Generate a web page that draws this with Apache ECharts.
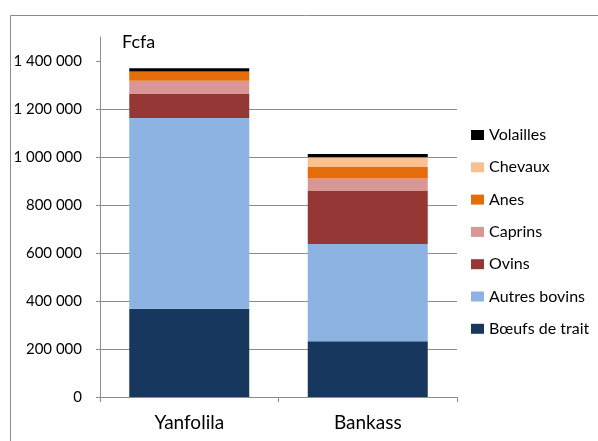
<!DOCTYPE html>
<html>
<head>
<meta charset="utf-8">
<script src="https://cdn.jsdelivr.net/npm/echarts@6/dist/echarts.min.js"></script>
<style>
html,body{margin:0;padding:0;background:#fff;}
#chart{width:598px;height:441px;}
</style>
</head>
<body>
<div id="chart"></div>
<script>
const categories = ['Yanfolila', 'Bankass'];
const boeufsDeTrait = [368000, 232000];
const autresBovins = [795000, 405000];
const ovins = [99000, 223000];
const caprins = [56000, 50000];
const anes = [38000, 48000];
const chevaux = [0, 41000];
const volailles = [14000, 14000];
const yTicks = [0, 200000, 400000, 600000, 800000, 1000000, 1200000, 1400000];
const legendOrder = ['Volailles', 'Chevaux', 'Anes', 'Caprins', 'Ovins', 'Autres bovins', 'Bœufs de trait'];

const FONT = 'Lato';
const GRID = '#8c8c8c';

function fmt(v) {
  return String(v).replace(/\B(?=(\d{3})+(?!\d))/g, ' ');
}

const seriesDefs = [
  ['Bœufs de trait', boeufsDeTrait, '#17375E'],
  ['Autres bovins', autresBovins, '#8DB3E2'],
  ['Ovins', ovins, '#953735'],
  ['Caprins', caprins, '#D99694'],
  ['Anes', anes, '#E46C0A'],
  ['Chevaux', chevaux, '#FAC090'],
  ['Volailles', volailles, '#000000']
];

const chart = echarts.init(document.getElementById('chart'), null, {renderer: 'canvas'});
chart.setOption({
  animation: false,
  backgroundColor: '#fff',
  title: {
    text: 'Fcfa', left: 122, top: 33, padding: 0,
    textStyle: {fontFamily: FONT, fontSize: 18, fontWeight: 'normal', color: '#000'}
  },
  graphic: [{
    type: 'rect', shape: {x: 10.5, y: 15.5, width: 700, height: 500},
    style: {fill: 'none', stroke: GRID, lineWidth: 1}, silent: true
  }],
  legend: {
    orient: 'vertical', left: 466, top: 121,
    icon: 'rect', itemWidth: 13, itemHeight: 10, itemGap: 14.3,
    data: legendOrder,
    textStyle: {fontFamily: FONT, fontSize: 16, lineHeight: 18, color: '#000'}
  },
  grid: {left: 100, right: 141, top: 37, bottom: 44, containLabel: false},
  xAxis: {
    type: 'category', data: categories,
    axisLine: {lineStyle: {color: GRID}},
    axisTick: {show: true, length: 5, lineStyle: {color: GRID}},
    axisLabel: {fontFamily: FONT, fontSize: 19, color: '#000', margin: 16}
  },
  yAxis: {
    type: 'value', min: 0, max: 1500000, interval: 100000,
    axisLine: {show: true, lineStyle: {color: GRID}},
    axisTick: {show: true, length: 4, customValues: yTicks, lineStyle: {color: GRID}},
    axisLabel: {fontFamily: FONT, fontSize: 15, color: '#000', margin: 18, customValues: yTicks, formatter: fmt},
    splitLine: {show: true, showMaxLine: false, lineStyle: {color: GRID}}
  },
  series: seriesDefs.map(([name, data, color]) => ({
    name, type: 'bar', stack: 'total', data, barWidth: 120,
    itemStyle: {color}
  }))
});
</script>
</body>
</html>
